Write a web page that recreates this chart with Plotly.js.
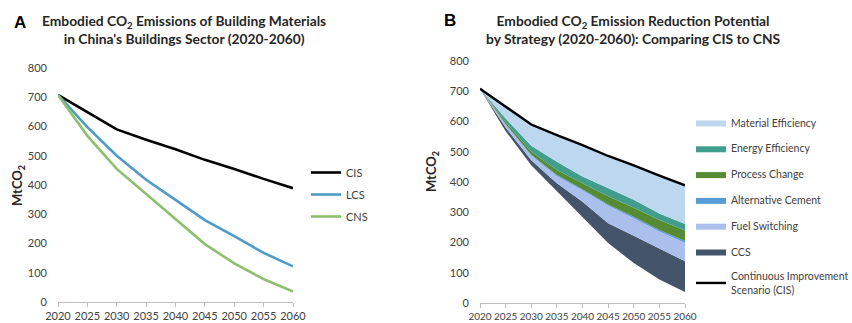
<!DOCTYPE html>
<html>
<head>
<meta charset="utf-8">
<script src="https://cdn.plot.ly/plotly-3.0.1.min.js"></script>
<style>html,body{margin:0;padding:0;background:#fff;}#chart{width:852px;height:323px;}</style>
</head>
<body>
<div id="chart"></div>
<script>
// ---- data ----
const years = [2020, 2025, 2030, 2035, 2040, 2045, 2050, 2055, 2060];
const cis = [708, 648, 590, 555, 522, 486, 455, 421, 389];
const lcs = [708, 598, 500, 418, 349, 280, 225, 168, 122];
const cns = [708, 568, 455, 370, 285, 198, 132, 78, 36];
// reduction potential by strategy (stacked on top of CNS, reaching CIS)
const ccs = [0, 12, 17, 26, 50, 66, 90, 103, 102];
const fuelSwitching = [0, 10, 16, 24, 38, 58, 58, 55, 61];
const altCement = [0, 1, 2, 3, 3, 4, 5, 5, 6];
const processChange = [0, 7, 10, 17, 20, 27, 30, 33, 35];
const energyEff = [0, 12, 20, 27, 22, 27, 26, 22, 21];
const materialEff = [0, 38, 70, 88, 104, 106, 114, 125, 128];
const yTicks = [0, 100, 200, 300, 400, 500, 600, 700, 800];
const xTicks = [2020, 2025, 2030, 2035, 2040, 2045, 2050, 2055, 2060];

const W = 852, H = 323;
const FONT = 'Lato, "Open Sans", sans-serif';
const TXT = '#404040';

const traces = [
  {x: years, y: cis, name: 'CIS', type: 'scatter', mode: 'lines', line: {color: '#000000', width: 2.6}, xaxis: 'x', yaxis: 'y', legend: 'legend', legendgroup: 'a1'},
  {x: years, y: lcs, name: 'LCS', type: 'scatter', mode: 'lines', line: {color: '#4E9BC9', width: 2.6}, xaxis: 'x', yaxis: 'y', legend: 'legend', legendgroup: 'a2'},
  {x: years, y: cns, name: 'CNS', type: 'scatter', mode: 'lines', line: {color: '#8DC06E', width: 2.6}, xaxis: 'x', yaxis: 'y', legend: 'legend', legendgroup: 'a3'},
  // right panel stack
  {x: years, y: cns, name: 'CNS base', type: 'scatter', mode: 'lines', stackgroup: 'b', line: {width: 0}, fillcolor: 'rgba(0,0,0,0)', showlegend: false, xaxis: 'x2', yaxis: 'y2'},
  {x: years, y: ccs, name: 'CCS', type: 'scatter', mode: 'lines', stackgroup: 'b', line: {width: 0, color: '#44546A'}, fillcolor: '#44546A', xaxis: 'x2', yaxis: 'y2', legend: 'legend2', legendrank: 6, legendgroup: 'b6'},
  {x: years, y: fuelSwitching, name: 'Fuel Switching', type: 'scatter', mode: 'lines', stackgroup: 'b', line: {width: 0, color: '#AABFEB'}, fillcolor: '#AABFEB', xaxis: 'x2', yaxis: 'y2', legend: 'legend2', legendrank: 5, legendgroup: 'b5'},
  {x: years, y: altCement, name: 'Alternative Cement', type: 'scatter', mode: 'lines', stackgroup: 'b', line: {width: 0, color: '#5B9BD5'}, fillcolor: '#5B9BD5', xaxis: 'x2', yaxis: 'y2', legend: 'legend2', legendrank: 4, legendgroup: 'b4'},
  {x: years, y: processChange, name: 'Process Change', type: 'scatter', mode: 'lines', stackgroup: 'b', line: {width: 0, color: '#558B33'}, fillcolor: '#558B33', xaxis: 'x2', yaxis: 'y2', legend: 'legend2', legendrank: 3, legendgroup: 'b3'},
  {x: years, y: energyEff, name: 'Energy Efficiency', type: 'scatter', mode: 'lines', stackgroup: 'b', line: {width: 0, color: '#419E8F'}, fillcolor: '#419E8F', xaxis: 'x2', yaxis: 'y2', legend: 'legend2', legendrank: 2, legendgroup: 'b2'},
  {x: years, y: materialEff, name: 'Material Efficiency', type: 'scatter', mode: 'lines', stackgroup: 'b', line: {width: 0, color: '#BDD7EE'}, fillcolor: '#BDD7EE', xaxis: 'x2', yaxis: 'y2', legend: 'legend2', legendrank: 1, legendgroup: 'b1'},
  {x: years, y: cis, name: 'Continuous Improvement<br>Scenario (CIS)', type: 'scatter', mode: 'lines', line: {color: '#000000', width: 2.4}, xaxis: 'x2', yaxis: 'y2', legend: 'legend2', legendrank: 7, legendgroup: 'b7'}
];

function xAxis(domain, fs) {
  return {domain: domain, range: [2020, 2060], tickvals: xTicks, ticktext: xTicks.map(String), tickangle: 0,
    showgrid: false, zeroline: false, showline: true, linecolor: '#BFBFBF', linewidth: 1, automargin: false,
    ticks: 'outside', ticklen: 4, tickcolor: '#BFBFBF', tickfont: {family: FONT, size: fs, color: TXT}, fixedrange: true};
}
function yAxis(domain, anchor) {
  return {domain: domain, range: [0, 800], tickvals: yTicks, ticktext: yTicks.map(String), anchor: anchor,
    showgrid: false, zeroline: false, showline: false, ticks: '', ticklabelstandoff: 10, automargin: false,
    tickfont: {family: FONT, size: 11, color: TXT}, fixedrange: true};
}

const layout = {
  width: W, height: H, margin: {l: 0, r: 0, t: 0, b: 0, pad: 0, autoexpand: false},
  paper_bgcolor: '#ffffff', plot_bgcolor: '#ffffff', hovermode: false,
  font: {family: FONT, color: TXT},
  xaxis: Object.assign(xAxis([58 / W, 293 / W], 11), {anchor: 'y'}),
  yaxis: yAxis([21 / H, 255 / H], 'x'),
  xaxis2: Object.assign(xAxis([480 / W, 685 / W], 10), {anchor: 'y2'}),
  yaxis2: yAxis([20 / H, 262 / H], 'x2'),
  legend: {x: 306 / W, y: 1 - 158 / H, xanchor: 'left', yanchor: 'top', bgcolor: 'rgba(0,0,0,0)',
    font: {family: FONT, size: 11, color: TXT}, itemwidth: 30, tracegroupgap: 3, traceorder: 'grouped'},
  legend2: {x: 691 / W, y: 1 - 108 / H, xanchor: 'left', yanchor: 'top', bgcolor: 'rgba(0,0,0,0)',
    font: {family: FONT, size: 10.5, color: TXT}, itemwidth: 30, tracegroupgap: 6.8, traceorder: 'grouped'},
  annotations: [
    {text: '<b>A</b>', x: 12 / W, y: 1 - 22 / H, xref: 'paper', yref: 'paper', xanchor: 'left', yanchor: 'middle', showarrow: false,
      font: {family: 'Liberation Sans, Arial, sans-serif', size: 17, color: '#000'}},
    {text: '<b>Embodied CO<sub>2</sub> Emissions of Building Materials<br>in China\'s Buildings Sector (2020-2060)</b>',
      x: 184 / W, y: 1 - 30 / H, xref: 'paper', yref: 'paper', xanchor: 'center', yanchor: 'middle', showarrow: false,
      font: {family: FONT, size: 13.8, color: '#262626'}},
    {text: '<b>B</b>', x: 442 / W, y: 1 - 20 / H, xref: 'paper', yref: 'paper', xanchor: 'left', yanchor: 'middle', showarrow: false,
      font: {family: 'Liberation Sans, Arial, sans-serif', size: 17, color: '#000'}},
    {text: '<b>Embodied CO<sub>2</sub> Emission Reduction Potential<br>by Strategy (2020-2060): Comparing CIS to CNS</b>',
      x: 633 / W, y: 1 - 29 / H, xref: 'paper', yref: 'paper', xanchor: 'center', yanchor: 'middle', showarrow: false,
      font: {family: FONT, size: 13.8, color: '#262626'}},
    {text: '<b>MtCO<sub>2</sub></b>', x: 18 / W, y: 1 - 186 / H, xref: 'paper', yref: 'paper', xanchor: 'center', yanchor: 'middle',
      textangle: -90, showarrow: false, font: {family: FONT, size: 13, color: '#262626'}},
    {text: '<b>MtCO<sub>2</sub></b>', x: 432 / W, y: 1 - 172 / H, xref: 'paper', yref: 'paper', xanchor: 'center', yanchor: 'middle',
      textangle: -90, showarrow: false, font: {family: FONT, size: 13, color: '#262626'}}
  ]
};

Plotly.newPlot('chart', traces, layout, {staticPlot: true, displayModeBar: false});
</script>
</body>
</html>
